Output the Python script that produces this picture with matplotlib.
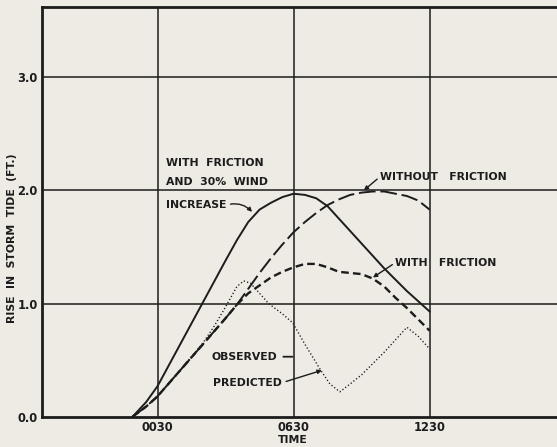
import matplotlib.pyplot as plt

# hours after 0030
hours_solid = [-1.1, -0.5, 0, 1, 2, 3, 3.5, 4, 4.5, 5, 5.5, 6, 6.5, 7, 7.5, 8, 9, 10, 11, 12]
wind_increase = [0, 0.13, 0.27, 0.64, 1.01, 1.38, 1.56, 1.72, 1.83, 1.89, 1.94, 1.97, 1.96, 1.93, 1.86, 1.75, 1.53, 1.31, 1.11, 0.93]

hours_fric = [-1.1, -0.5, 0, 1, 2, 3, 3.5, 4, 4.5, 5, 5.5, 6, 6.5, 7, 7.5, 8, 8.5, 9, 9.5, 10, 10.5, 11, 11.5, 12]
without_friction = [0, 0.09, 0.18, 0.41, 0.64, 0.87, 0.99, 1.13, 1.27, 1.40, 1.52, 1.63, 1.72, 1.80, 1.87, 1.92, 1.96, 1.98, 1.99, 1.99, 1.97, 1.95, 1.91, 1.83]
with_friction = [0, 0.09, 0.18, 0.41, 0.64, 0.87, 0.99, 1.09, 1.16, 1.23, 1.28, 1.32, 1.35, 1.35, 1.32, 1.28, 1.27, 1.26, 1.22, 1.15, 1.05, 0.96, 0.86, 0.76]

hours_obs = [-1.1, -0.5, 0, 1, 2, 2.5, 3, 3.5, 3.8, 4.1, 4.5, 4.9, 5.5, 5.96, 6.5, 7.2, 7.6, 8.04, 8.5, 9, 9.5, 10, 10.5, 11, 11.5, 11.95]
observed = [0, 0.09, 0.18, 0.41, 0.65, 0.80, 0.97, 1.15, 1.20, 1.18, 1.09, 1.00, 0.91, 0.83, 0.64, 0.41, 0.29, 0.22, 0.29, 0.37, 0.47, 0.57, 0.68, 0.79, 0.71, 0.61]

x_ticks = [0, 6, 12]
x_labels = ['0030', '0630', '1230']
y_ticks = [0, 1, 2, 3]
y_labels = ['0.0', '1.0', '2.0', '3.0']

paper = '#eeebe5'
ink = '#1c1c1c'
plt.rcParams['font.family'] = 'DejaVu Sans'
plt.rcParams['lines.scale_dashes'] = False

fig = plt.figure(figsize=(5.57, 4.47), dpi=100, facecolor=paper)
ax = fig.add_axes([41.7/557, 30.3/447, 1 - 41.7/557, 409.7/447])
ax.set_facecolor(paper)
ax.set_xlim(-5.11, 17.62)
ax.set_ylim(0, 3.62)

for v in x_ticks:
    ax.axvline(v, color=ink, lw=1.1, zorder=1)
for v in [1, 2, 3]:
    ax.axhline(v, color=ink, lw=1.1, zorder=1)

ax.plot(hours_solid, wind_increase, color=ink, lw=1.4)
ax.plot(hours_fric, without_friction, color=ink, lw=1.4, dashes=(12, 3.5))
ax.plot(hours_fric, with_friction, color=ink, lw=1.7, dashes=(5.5, 3))
ax.plot(hours_obs, observed, color=ink, lw=1.0, dashes=(0.9, 1.6))

for s in ['left', 'bottom', 'top']:
    ax.spines[s].set_linewidth(2.0)
    ax.spines[s].set_color(ink)
ax.spines['right'].set_visible(False)

ax.set_xticks(x_ticks)
ax.set_xticklabels(x_labels)
ax.set_yticks(y_ticks)
ax.set_yticklabels(y_labels)
ax.tick_params(length=0, labelsize=8.3, colors=ink, pad=3)
for t in ax.get_xticklabels() + ax.get_yticklabels():
    t.set_fontweight('bold')

fs = 7.8
kw = dict(fontsize=fs, fontweight='bold', color=ink, va='center')
ax.text(0.37, 2.24, 'WITH  FRICTION', **kw)
ax.text(0.37, 2.07, 'AND  30%  WIND', **kw)
ax.annotate('INCREASE', xy=(4.17, 1.81), xytext=(0.37, 1.87), **kw,
            arrowprops=dict(arrowstyle='-|>', color=ink, lw=1.0, mutation_scale=6,
                            relpos=(1, 0.5), shrinkA=1, shrinkB=0,
                            connectionstyle='arc3,rad=-0.3'))
ax.annotate('WITHOUT   FRICTION', xy=(9.1, 2.0), xytext=(9.81, 2.12), **kw,
            arrowprops=dict(arrowstyle='-|>', color=ink, lw=1.0, mutation_scale=6,
                            relpos=(0, 0.5), shrinkA=0, shrinkB=0))
ax.annotate('WITH   FRICTION', xy=(9.5, 1.23), xytext=(10.48, 1.36), **kw,
            arrowprops=dict(arrowstyle='-|>', color=ink, lw=1.0, mutation_scale=6,
                            relpos=(0, 0.5), shrinkA=0, shrinkB=0))
ax.text(2.4, 0.53, 'OBSERVED', **kw)
ax.annotate('', xy=(5.95, 0.53), xytext=(5.55, 0.53),
            arrowprops=dict(arrowstyle='-', color=ink, lw=1.3, shrinkA=0, shrinkB=0))
ax.annotate('PREDICTED', xy=(7.25, 0.41), xytext=(2.45, 0.30), **kw,
            arrowprops=dict(arrowstyle='-|>', color=ink, lw=1.0, mutation_scale=6,
                            relpos=(1, 0.5), shrinkA=1, shrinkB=0))

fig.text(12/557, 1 - 238/447, 'RISE  IN  STORM  TIDE  (FT.)', rotation=90,
         ha='center', va='center', fontsize=fs, fontweight='bold', color=ink)
fig.text(293/557, 1 - 440/447, 'TIME', ha='center', va='center',
         fontsize=fs, fontweight='bold', color=ink)

fig.savefig('out.png', dpi=100, facecolor=paper)
